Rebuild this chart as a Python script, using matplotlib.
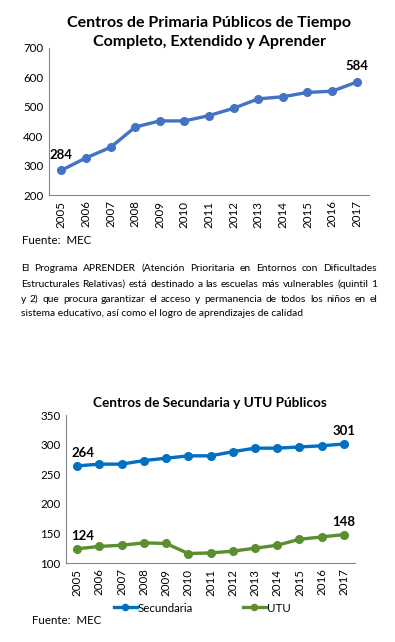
import matplotlib
matplotlib.use("Agg")
import matplotlib.pyplot as plt

plt.rcParams['font.family'] = ['Lato', 'DejaVu Sans']

years = ["2005", "2006", "2007", "2008", "2009", "2010", "2011", "2012",
         "2013", "2014", "2015", "2016", "2017"]
primaria = [284, 326, 362, 431, 452, 452, 470, 495, 527, 534, 549, 553, 584]
secundaria = [264, 267, 267, 273, 277, 281, 281, 288, 294, 294, 296, 298, 301]
utu = [124, 128, 130, 134, 133, 116, 117, 120, 125, 130, 140, 144, 148]

title_top = "Centros de Primaria Públicos de Tiempo\nCompleto, Extendido y Aprender"
title_bottom = "Centros de Secundaria y UTU Públicos"
source = "Fuente:  MEC"
paragraph_lines = [
    "El Programa APRENDER (Atención Prioritaria en Entornos con Dificultades",
    "Estructurales Relativas) está destinado a las escuelas más vulnerables (quintil 1",
    "y 2) que procura garantizar el acceso y permanencia de todos los niños en el",
    "sistema educativo, así como el logro de aprendizajes de calidad",
]

W, H = 395, 642
fig = plt.figure(figsize=(W / 100, H / 100), dpi=100)
fig.patch.set_facecolor("white")

C_TOP = "#4472C4"
C_SEC = "#0070C0"
C_UTU = "#5B8E2E"
AXC = "#868686"
TXT = "#000000"


def style_ax(ax):
    for s in ["top", "right"]:
        ax.spines[s].set_visible(False)
    for s in ["left", "bottom"]:
        ax.spines[s].set_color(AXC)
        ax.spines[s].set_linewidth(0.8)
    ax.tick_params(length=0, labelsize=8.3, colors=TXT, pad=4)
    ax.set_xticks(range(len(years)))
    ax.set_xticklabels(years, rotation=90)
    ax.set_xlim(-0.5, len(years) - 0.5)


def fx(px):
    return px / W


def fy(py):
    return 1 - py / H


# Top chart
ax1 = fig.add_axes([fx(49), fy(195), fx(320), 147 / H])
x = list(range(len(years)))
ax1.plot(x, primaria, color=C_TOP, lw=2.4, marker="o", ms=5.5)
ax1.set_ylim(200, 700)
ax1.set_yticks([200, 300, 400, 500, 600, 700])
style_ax(ax1)
ax1.annotate(str(primaria[0]), (0, primaria[0]), xytext=(0, 7), textcoords="offset points",
             ha="center", va="bottom", fontsize=9.5, fontweight="bold")
ax1.annotate(str(primaria[-1]), (12, primaria[-1]), xytext=(0, 7), textcoords="offset points",
             ha="center", va="bottom", fontsize=9.5, fontweight="bold")
fig.text(fx(209), fy(32.5), title_top, ha="center", va="center", fontsize=11.5,
         fontweight="bold", linespacing=1.4)
fig.text(fx(22), fy(241), source, ha="left", va="center", fontsize=8.3)

# Paragraph, justified
fig.canvas.draw()
renderer = fig.canvas.get_renderer()
left_px, right_px = 21, 377
line_y = [268, 284, 299, 313]
fs_par = 7.4
for i, line in enumerate(paragraph_lines):
    words = line.split(" ")
    ypos = fy(line_y[i])
    if i == len(paragraph_lines) - 1:
        fig.text(fx(left_px), ypos, line, ha="left", va="center", fontsize=fs_par)
        continue
    widths = []
    for w in words:
        t = fig.text(0, 0, w, fontsize=fs_par)
        widths.append(t.get_window_extent(renderer).width)
        t.remove()
    gap = (right_px - left_px - sum(widths)) / (len(words) - 1)
    cur = left_px
    for w, wd in zip(words, widths):
        fig.text(fx(cur), ypos, w, ha="left", va="center", fontsize=fs_par)
        cur += wd + gap

# Bottom chart
ax2 = fig.add_axes([fx(66), fy(563), fx(289), 148 / H])
l1, = ax2.plot(x, secundaria, color=C_SEC, lw=2.4, marker="o", ms=5.5, label="Secundaria")
l2, = ax2.plot(x, utu, color=C_UTU, lw=2.4, marker="o", ms=5.5, label="UTU")
ax2.set_ylim(100, 350)
ax2.set_yticks([100, 150, 200, 250, 300, 350])
style_ax(ax2)
for series in (secundaria, utu):
    ax2.annotate(str(series[0]), (0, series[0]), xytext=(4, 5), textcoords="offset points",
                 ha="center", va="bottom", fontsize=9.5, fontweight="bold")
    ax2.annotate(str(series[-1]), (12, series[-1]), xytext=(0, 5), textcoords="offset points",
                 ha="center", va="bottom", fontsize=9.5, fontweight="bold")
fig.text(fx(210), fy(403), title_bottom, ha="center", va="center", fontsize=9.8,
         fontweight="bold")
fig.legend(handles=[l1, l2], loc="center", bbox_to_anchor=(fx(202), fy(608)), ncol=2,
           frameon=False, fontsize=8.3, handlelength=2.0, handletextpad=0.1,
           columnspacing=4.3, borderaxespad=0, markerscale=0.8)
fig.text(fx(32), fy(621), source, ha="left", va="center", fontsize=8.3)

fig.savefig("out.png", dpi=100, facecolor="white")
